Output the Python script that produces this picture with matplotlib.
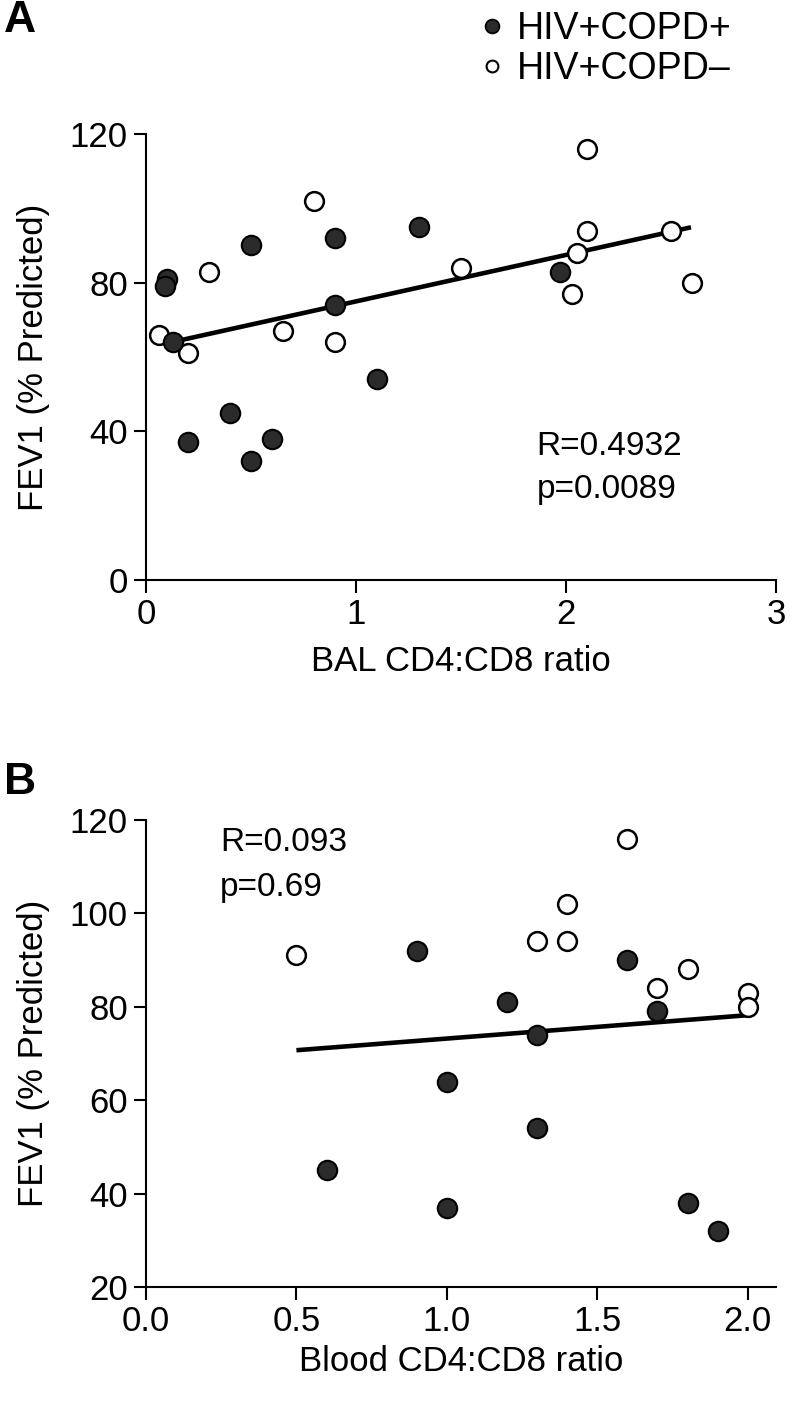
import matplotlib
matplotlib.use('Agg')
import matplotlib.pyplot as plt
from matplotlib.lines import Line2D

## Helvetica look-alike
plt.rcParams['font.family'] = ['Liberation Sans', 'DejaVu Sans']

## panel A: BAL CD4:CD8 ratio vs FEV1
bal_pos_x = [0.10, 0.09, 0.13, 0.20, 0.40, 0.50, 0.60, 0.50, 0.90, 0.90, 1.10, 1.30, 1.97]
bal_pos_y = [81, 79, 64, 37, 45, 32, 38, 90, 92, 74, 54, 95, 83]
bal_neg_x = [0.06, 0.20, 0.30, 0.65, 0.80, 0.90, 1.50, 2.10, 2.10, 2.05, 2.03, 2.50, 2.60]
bal_neg_y = [66, 61, 83, 67, 102, 64, 84, 116, 94, 88, 77, 94, 80]
bal_fit_x = [0.155, 2.595]
bal_fit_y = [64.4, 94.9]

## panel B: blood CD4:CD8 ratio vs FEV1
blood_pos_x = [0.6, 0.9, 1.0, 1.0, 1.2, 1.3, 1.3, 1.6, 1.7, 1.8, 1.9]
blood_pos_y = [45, 92, 64, 37, 81, 74, 54, 90, 79, 38, 32]
blood_neg_x = [0.5, 1.3, 1.4, 1.4, 1.6, 1.7, 1.8, 2.0, 2.0]
blood_neg_y = [91, 94, 94, 102, 116, 84, 88, 83, 80]
blood_fit_x = [0.5, 2.0]
blood_fit_y = [70.7, 78.2]

legend_labels = ['HIV+COPD+', 'HIV+COPD\u2013']
FILL = '#2b2b2b'
FS = 25

W, H = 793, 1410
fig = plt.figure(figsize=(W/100, H/100), dpi=100)
ax_a = fig.add_axes([146/W, 1 - 580/H, 630/W, 446/H])
ax_b = fig.add_axes([146/W, 1 - 1287/H, 630/W, 467/H])


def scatter_panel(ax, px, py, nx, ny, fx, fy):
    ax.plot(fx, fy, color='black', lw=3.3, solid_capstyle='butt', zorder=2)
    ax.plot(nx, ny, 'o', ms=13.5, mfc='white', mec='black', mew=1.8, zorder=3)
    ax.plot(px, py, 'o', ms=14, mfc=FILL, mec='black', mew=1.5, zorder=4)
    for side in ['top', 'right']:
        ax.spines[side].set_visible(False)
    for side in ['left', 'bottom']:
        ax.spines[side].set_linewidth(1.5)
    ax.tick_params(width=1.5, length=9, labelsize=FS, pad=4)


scatter_panel(ax_a, bal_pos_x, bal_pos_y, bal_neg_x, bal_neg_y, bal_fit_x, bal_fit_y)
ax_a.set_xlim(0, 3)
ax_a.set_ylim(0, 120)
ax_a.set_xticks([0, 1, 2, 3])
ax_a.set_yticks([0, 40, 80, 120])
ax_a.set_xlabel('BAL CD4:CD8 ratio', fontsize=FS, labelpad=10)
ax_a.set_ylabel('FEV1 (% Predicted)', fontsize=FS, labelpad=14)
ax_a.text(1.86, 36, 'R=0.4932', fontsize=24, va='center')
ax_a.text(1.86, 24.4, 'p=0.0089', fontsize=24, va='center')

scatter_panel(ax_b, blood_pos_x, blood_pos_y, blood_neg_x, blood_neg_y, blood_fit_x, blood_fit_y)
ax_b.set_xlim(0, 2.094)
ax_b.set_ylim(20, 120)
ax_b.set_xticks([0, 0.5, 1.0, 1.5, 2.0])
ax_b.set_xticklabels(['0.0', '0.5', '1.0', '1.5', '2.0'])
ax_b.set_yticks([20, 40, 60, 80, 100, 120])
ax_b.set_xlabel('Blood CD4:CD8 ratio', fontsize=FS, labelpad=5)
ax_b.set_ylabel('FEV1 (% Predicted)', fontsize=FS, labelpad=14)
ax_b.text(0.246, 115.1, 'R=0.093', fontsize=24, va='center')
ax_b.text(0.246, 105.6, 'p=0.69', fontsize=24, va='center')

## panel letters
fig.text(4/W, 1 - 21/H, 'A', fontsize=32, fontweight='bold', va='center', ha='left')
fig.text(4/W, 1 - 783/H, 'B', fontsize=32, fontweight='bold', va='center', ha='left')

## legend
handles = [
    Line2D([], [], ls='none', marker='o', ms=10, mfc=FILL, mec='black', mew=1.2),
    Line2D([], [], ls='none', marker='o', ms=8.5, mfc='white', mec='black', mew=1.5),
]
fig.legend(handles, legend_labels, loc='upper left', bbox_to_anchor=(466/W, 1 + 4/H),
           frameon=False, fontsize=27, handlelength=0.6, handletextpad=0.35,
           labelspacing=0.1, borderaxespad=0)

fig.savefig('out.png', dpi=100)
